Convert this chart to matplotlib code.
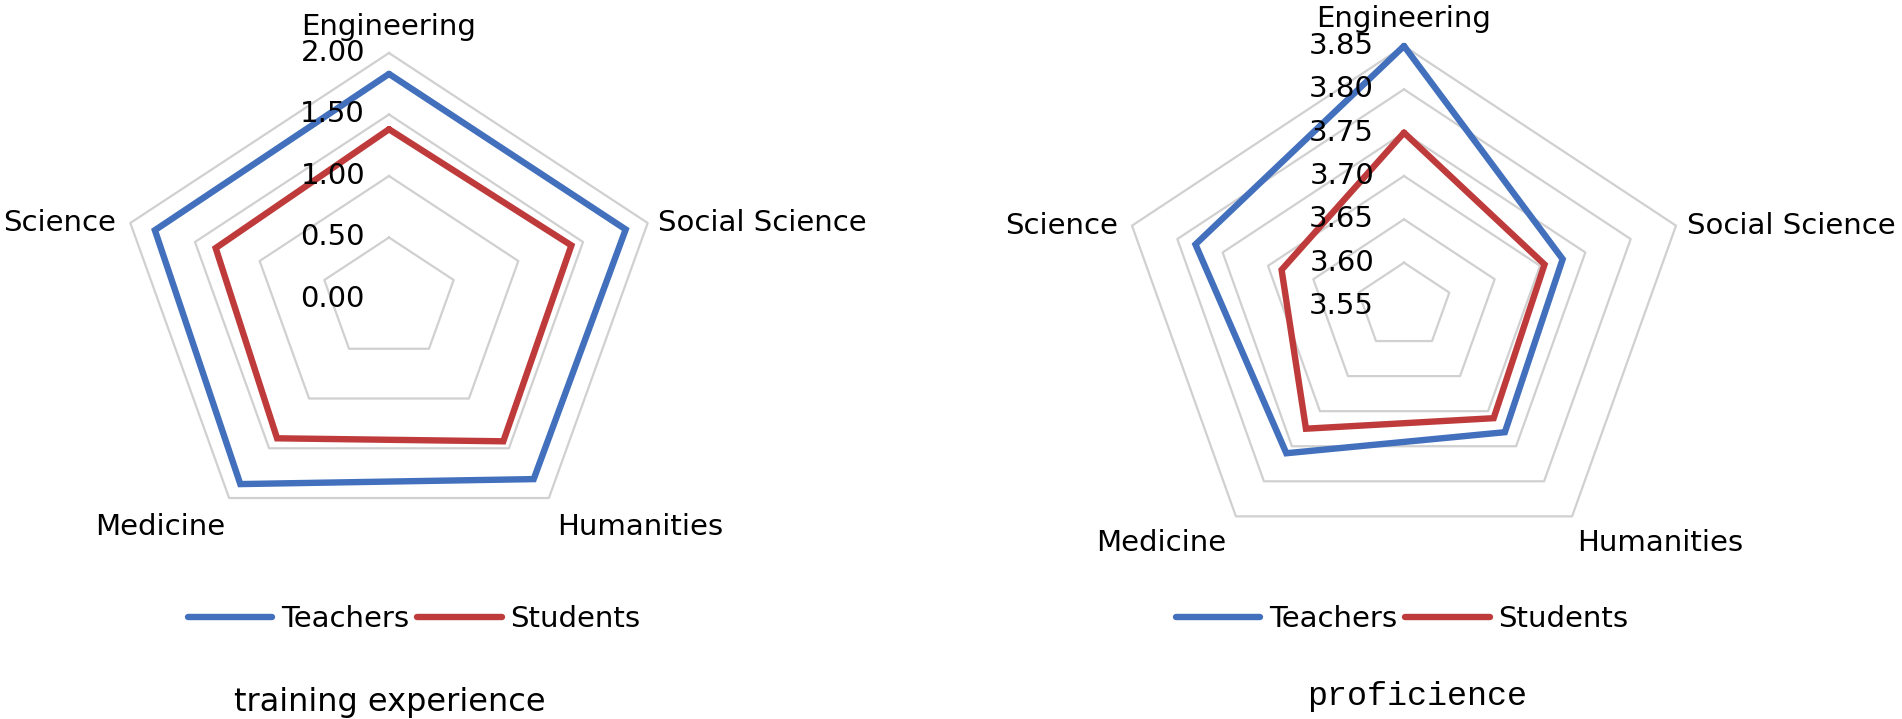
import numpy as np
import matplotlib
matplotlib.use('Agg')
from matplotlib import pyplot as plt

categories = ['Engineering', 'Social Science', 'Humanities', 'Medicine', 'Science']
series_names = ['Teachers', 'Students']

training_teachers = [1.83, 1.83, 1.81, 1.86, 1.81]
training_students = [1.38, 1.41, 1.43, 1.40, 1.34]
training_ticks = [0.00, 0.50, 1.00, 1.50, 2.00]

proficience_teachers = [3.85, 3.725, 3.73, 3.76, 3.78]
proficience_students = [3.75, 3.705, 3.71, 3.725, 3.685]
proficience_ticks = [3.55, 3.60, 3.65, 3.70, 3.75, 3.80, 3.85]

BLUE = '#4270bd'
RED = '#bf3b3b'
GRID = '#d0d0d0'

W, H = 1902, 719
plt.rcParams['font.family'] = ['DejaVu Sans']
plt.rcParams['font.size'] = 21

fig = plt.figure(figsize=(W / 100, H / 100), dpi=100)


def radar(cx, cy, rx, ry, teachers, students, ticks, tick_dx, label_offsets):
    # axes placed so that radius 1 spans rx by ry pixels around (cx, cy)
    ext = 1.2
    ax = fig.add_axes([(cx - ext * rx) / W, (H - cy - ext * ry) / H,
                       2 * ext * rx / W, 2 * ext * ry / H])
    ax.set_xlim(-ext, ext)
    ax.set_ylim(-ext, ext)
    ax.axis('off')

    n = len(categories)
    theta = np.pi / 2 - 2 * np.pi * np.arange(n) / n
    lo, hi = ticks[0], ticks[-1]

    def xy(vals):
        r = (np.asarray(vals, dtype=float) - lo) / (hi - lo)
        r = np.append(r, r[0])
        t = np.append(theta, theta[0])
        return r * np.cos(t), r * np.sin(t)

    for t in ticks[1:]:
        gx, gy = xy([t] * n)
        ax.plot(gx, gy, color=GRID, lw=1.6, zorder=1)

    lines = []
    for vals, col, name in [(teachers, BLUE, series_names[0]),
                            (students, RED, series_names[1])]:
        px, py = xy(vals)
        ln, = ax.plot(px, py, color=col, lw=4.6, solid_joinstyle='miter',
                      solid_capstyle='round', zorder=3, label=name)
        lines.append(ln)

    for t in ticks:
        r = (t - lo) / (hi - lo)
        ax.annotate(f'{t:.2f}', xy=(0, r), xytext=(-tick_dx, 0),
                    textcoords='offset pixels', ha='right', va='center',
                    zorder=5)

    ox, oy = xy([hi] * n)
    for i, cat in enumerate(categories):
        dx, dy, ha = label_offsets[i]
        ax.annotate(cat, xy=(ox[i], oy[i]), xytext=(dx, dy),
                    textcoords='offset pixels', ha=ha, va='center',
                    annotation_clip=False)
    return lines


left_lines = radar(389, 299, 272, 246, training_teachers, training_students,
                   training_ticks, 24,
                   [(0, 26, 'center'), (10, 0, 'left'), (8, -29, 'left'),
                    (-4, -29, 'right'), (-14, 0, 'right')])
right_lines = radar(1404, 306, 286, 260, proficience_teachers,
                    proficience_students, proficience_ticks, 30,
                    [(0, 27, 'center'), (11, 0, 'left'), (5, -27, 'left'),
                     (-10, -27, 'right'), (-14, 0, 'right')])

for lines, lx in [(left_lines, 414), (right_lines, 1402)]:
    fig.legend(lines, series_names, loc='center', ncol=2, frameon=False,
               bbox_to_anchor=(lx / W, 1 - 619 / H),
               handlelength=2.9, handletextpad=0.3, columnspacing=0.27,
               borderpad=0)

fig.text(390 / W, 1 - 702 / H, 'training experience', ha='center',
         va='center', fontsize=23)
fig.text(1417 / W, 1 - 697 / H, 'proficience', ha='center', va='center',
         fontsize=24, family=['Liberation Mono', 'DejaVu Sans Mono'])

fig.savefig('out.png', dpi=100, facecolor='white')
